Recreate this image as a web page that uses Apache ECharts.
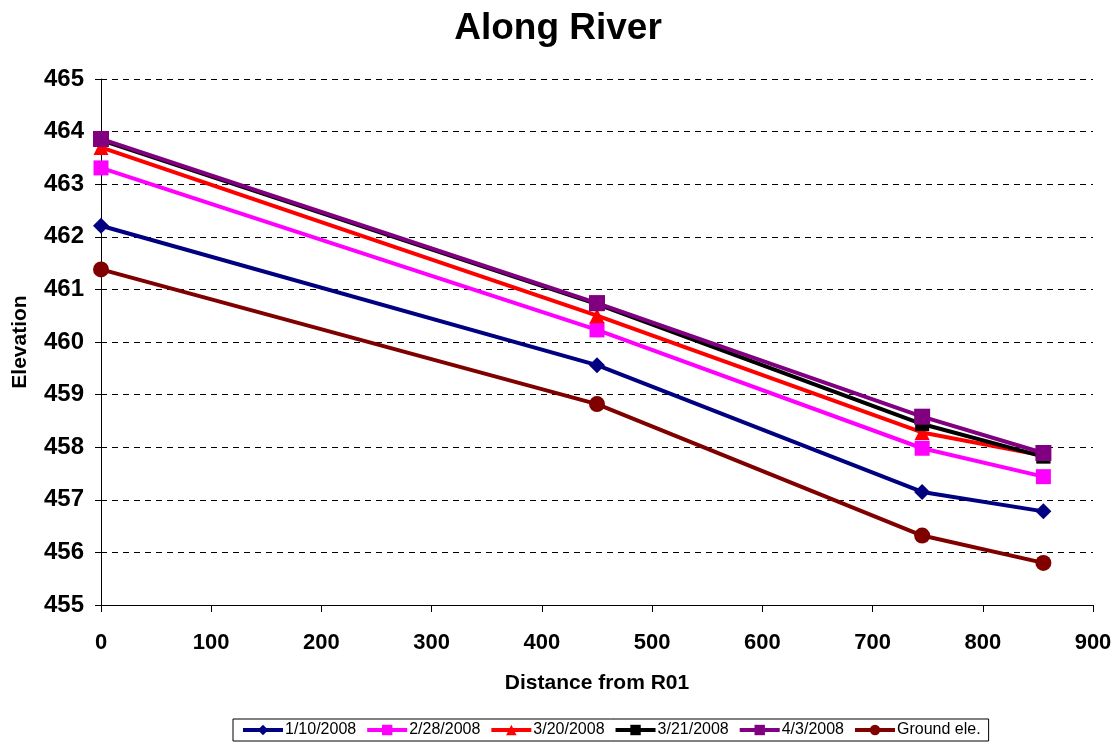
<!DOCTYPE html>
<html>
<head>
<meta charset="utf-8">
<script src="https://cdn.jsdelivr.net/npm/echarts@6/dist/echarts.min.js"></script>
<style>
  html, body { margin: 0; padding: 0; background: #fff; }
  #renderChart { width: 1116px; height: 744px; }
</style>
</head>
<body>
<div id="renderChart"></div>
<script>
// distance along the river
const distances = [0, 450, 745, 855];

// water elevations per survey date
const jan10 = [462.21, 459.56, 457.15, 456.78];
const feb28 = [463.31, 460.23, 457.98, 457.44];
const mar20 = [463.70, 460.50, 458.28, 457.84];
const mar21 = [463.84, 460.72, 458.44, 457.82];
const apr3 = [463.86, 460.74, 458.58, 457.89];
const ground = [461.38, 458.82, 456.32, 455.80];

const seriesNames = ['1/10/2008', '2/28/2008', '3/20/2008', '3/21/2008', '4/3/2008', 'Ground ele.'];
const seriesValues = [jan10, feb28, mar20, mar21, apr3, ground];
const seriesColors = ['#000080', '#FF00FF', '#FF0000', '#000000', '#800080', '#800000'];
const seriesSymbols = ['diamond', 'rect', 'triangle', 'rect', 'rect', 'circle'];
const symbolSizes = [16, 15, 15, 14, 16, 16];

const myChart = echarts.init(document.getElementById('renderChart'));

const font = 'Liberation Sans';

const option = {
  backgroundColor: '#fff',
  animation: false,
  title: {
    text: 'Along River',
    left: 'center',
    top: 5,
    textStyle: { fontFamily: font, fontSize: 37, fontWeight: 'bold', color: '#000' }
  },
  legend: {
    bottom: 3,
    left: 233,
    itemGap: 9,
    itemWidth: 40,
    itemHeight: 13,
    padding: [3, 8],
    borderColor: '#000',
    borderWidth: 1,
    lineStyle: { width: 4 },
    textStyle: { fontFamily: font, fontSize: 16, color: '#000', padding: [0, 0, 0, -3] },
    data: seriesNames
  },
  grid: { left: 101, right: 23, top: 79, bottom: 139, outerBoundsMode: 'none' },
  xAxis: {
    type: 'value',
    min: 0,
    max: 900,
    interval: 100,
    name: 'Distance from R01',
    nameLocation: 'middle',
    nameGap: 68,
    nameTextStyle: { fontFamily: font, fontSize: 21, fontWeight: 'bold', color: '#000' },
    axisLine: { lineStyle: { color: '#000', width: 1 } },
    axisTick: { show: true, length: 7, lineStyle: { color: '#000' } },
    axisLabel: { fontFamily: font, fontSize: 22, fontWeight: 'bold', color: '#000', margin: 27 },
    splitLine: { show: false }
  },
  yAxis: {
    type: 'value',
    min: 455,
    max: 465,
    interval: 1,
    name: 'Elevation',
    nameLocation: 'middle',
    nameGap: 70,
    nameTextStyle: { fontFamily: font, fontSize: 21, fontWeight: 'bold', color: '#000' },
    axisLine: { show: true, lineStyle: { color: '#000', width: 1 } },
    axisTick: { show: true, length: 6, lineStyle: { color: '#000' } },
    axisLabel: { fontFamily: font, fontSize: 24, fontWeight: 'bold', color: '#000', margin: 17 },
    splitLine: { show: true, lineStyle: { color: '#000', type: [6, 5], width: 1 } }
  },
  series: seriesNames.map((name, i) => ({
    name: name,
    type: 'line',
    data: distances.map((d, j) => [d, seriesValues[i][j]]),
    symbol: seriesSymbols[i],
    symbolSize: symbolSizes[i],
    showAllSymbol: true,
    // ground drawn first, then dates so purple ends on top as in the original
    z: i === 5 ? 2 : 3 + i,
    itemStyle: { color: seriesColors[i] },
    lineStyle: { color: seriesColors[i], width: 4 }
  }))
};

myChart.setOption(option);
</script>
</body>
</html>
